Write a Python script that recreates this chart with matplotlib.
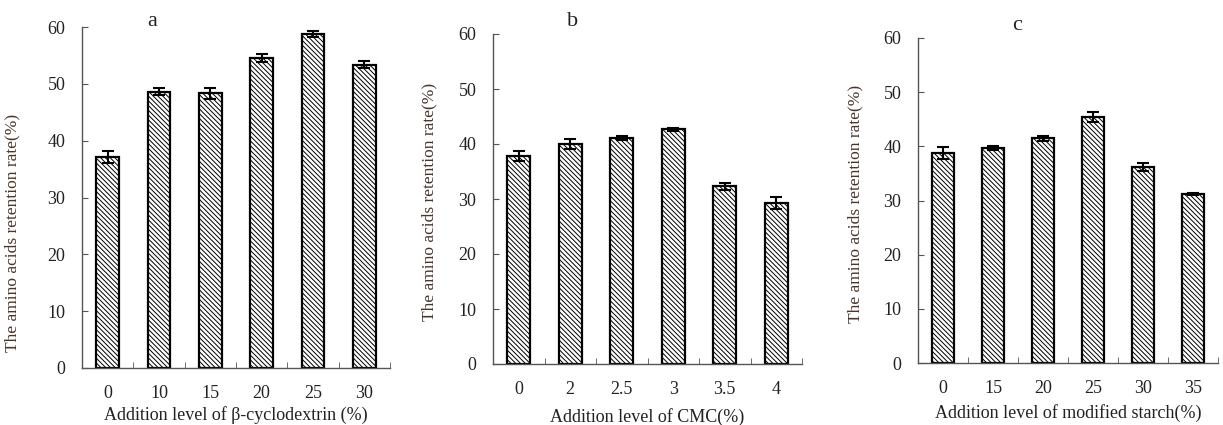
import matplotlib
matplotlib.use("Agg")
import matplotlib.pyplot as plt
import numpy as np

plt.rcParams['font.family'] = ['Liberation Serif', 'DejaVu Serif']
plt.rcParams['hatch.linewidth'] = 0.7
plt.rcParams['hatch.color'] = '#333333'

# Panel a
cats_a = ['0', '10', '15', '20', '25', '30']
vals_a = [37.1, 48.6, 48.3, 54.5, 58.8, 53.4]
errs_a = [1.0, 0.6, 1.0, 0.7, 0.5, 0.7]
# Panel b
cats_b = ['0', '2', '2.5', '3', '3.5', '4']
vals_b = [37.9, 40.0, 41.1, 42.7, 32.3, 29.3]
errs_b = [0.9, 0.9, 0.3, 0.3, 0.6, 1.1]
# Panel c
cats_c = ['0', '15', '20', '25', '30', '35']
vals_c = [38.7, 39.7, 41.5, 45.4, 36.2, 31.2]
errs_c = [1.1, 0.3, 0.5, 0.9, 0.7, 0.2]

xlabels = ['Addition level of β-cyclodextrin (%)',
           'Addition level of CMC(%)',
           'Addition level of modified starch(%)']
panel_letters = ['a', 'b', 'c']
ylabel = 'The amino acids retention rate(%)'

W, H = 1223, 425
fig = plt.figure(figsize=(W / 100, H / 100), dpi=100)

# axes rectangles in pixels: left, right, top, bottom
rects = [(82, 390, 27, 368), (493, 802, 34, 364), (918, 1218, 38, 363)]
ylabel_xy = [(20, 233), (437, 202), (863, 204)]
letter_pos = [(152, 22), (573, 21), (1017, 25)]
xlabel_y = [415, 417, 413]
tick_pad = [12, 12, 12]

data = [(cats_a, vals_a, errs_a), (cats_b, vals_b, errs_b), (cats_c, vals_c, errs_c)]

text_col = '#222222'
ylab_col = '#4a3428'
spine_col = '#555555'

for i, ((cats, vals, errs), (l, r, t, b)) in enumerate(zip(data, rects)):
    ax = fig.add_axes([l / W, (H - b) / H, (r - l) / W, (b - t) / H])
    x = np.arange(len(cats))
    ax.bar(x, vals, width=0.44, color='white', edgecolor='black', linewidth=1.6,
           hatch='\\\\\\\\\\\\\\', zorder=2)
    ax.errorbar(x, vals, yerr=errs, fmt='none', ecolor='black', elinewidth=1.5,
                capsize=4.5, capthick=1.5, zorder=3)
    ax.set_xlim(-0.5, len(cats) - 0.5)
    ax.set_ylim(0, 60)
    ax.set_yticks(np.arange(0, 61, 10))
    ax.set_xticks(x)
    ax.set_xticklabels(cats)
    ax.set_xticks(np.arange(0.5, len(cats), 1.0), minor=True)
    ax.tick_params(axis='x', which='major', length=0, pad=tick_pad[i], labelsize=13,
                   labelcolor=text_col)
    ax.tick_params(axis='x', which='minor', direction='in', length=4, color=spine_col)
    ax.tick_params(axis='y', direction='in', length=4, color=spine_col, pad=12,
                   labelsize=13, labelcolor=text_col)
    for s in ['top', 'right']:
        ax.spines[s].set_visible(False)
    for s in ['left', 'bottom']:
        ax.spines[s].set_color(spine_col)
        ax.spines[s].set_linewidth(1.0)
    ax.set_xlabel(xlabels[i], fontsize=13, color=text_col)
    ax.xaxis.label.set_va('center')
    ax.xaxis.set_label_coords(0.5, (b - xlabel_y[i]) / (b - t))
    ax.set_ylabel(ylabel, fontsize=12.5, color=ylab_col)
    ax.yaxis.label.set_ha('center')
    lxp, lyp = ylabel_xy[i]
    ax.yaxis.set_label_coords((lxp - l) / (r - l), (b - lyp) / (b - t))
    lx, ly = letter_pos[i]
    fig.text(lx / W, 1 - ly / H, panel_letters[i], fontsize=16, ha='center', va='center',
             color=text_col)

fig.savefig('out.png', dpi=100)
